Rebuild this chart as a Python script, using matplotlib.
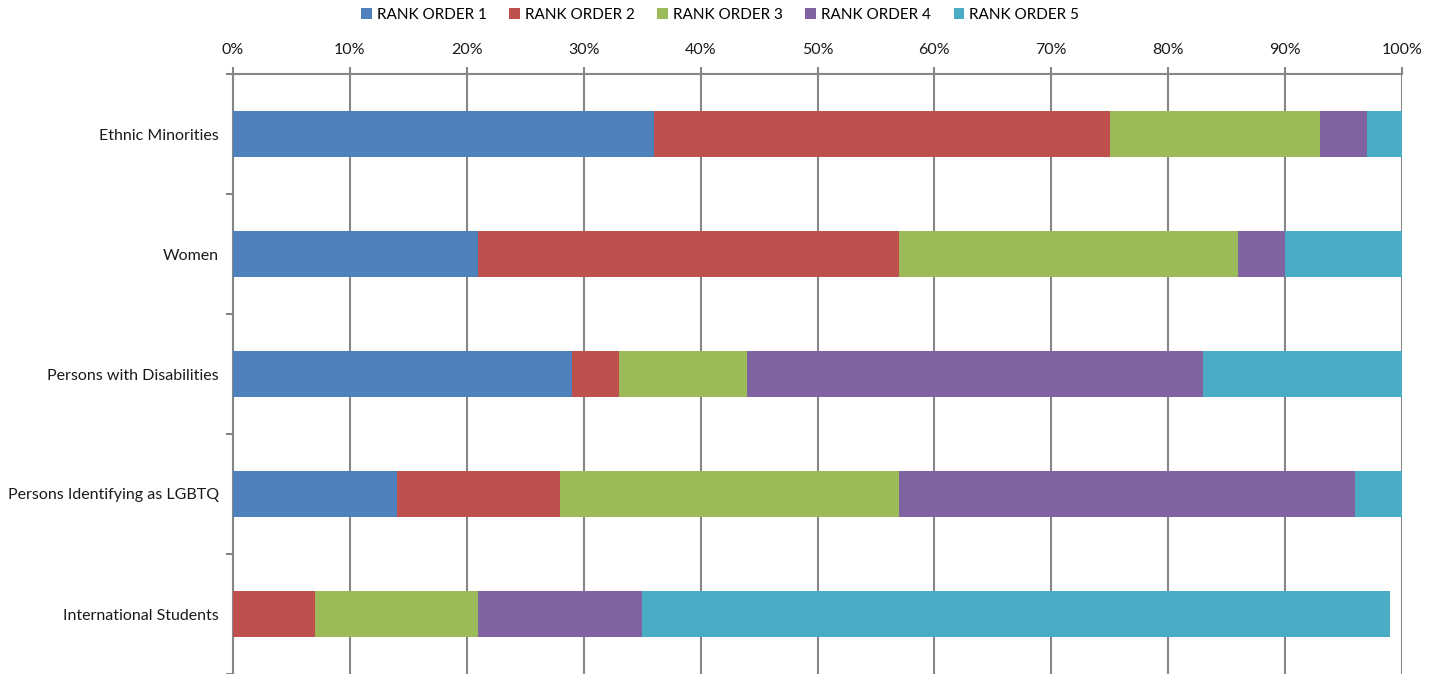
import matplotlib
matplotlib.use("Agg")
import matplotlib.pyplot as plt
from matplotlib.patches import Patch
import numpy as np

plt.rcParams['font.family'] = ['Lato', 'DejaVu Sans']

categories = ["Ethnic Minorities", "Women", "Persons with Disabilities",
              "Persons Identifying as LGBTQ", "International Students"]
series_names = ["RANK ORDER 1", "RANK ORDER 2", "RANK ORDER 3", "RANK ORDER 4", "RANK ORDER 5"]
rank1 = [36, 21, 29, 14, 0]
rank2 = [39, 36, 4, 14, 7]
rank3 = [18, 29, 11, 29, 14]
rank4 = [4, 4, 39, 39, 14]
rank5 = [3, 10, 17, 4, 64]
colors = ["#4F81BD", "#C0504D", "#9BBB59", "#8064A2", "#4BACC6"]

fig = plt.figure(figsize=(14.4, 6.74), dpi=100)
ax = fig.add_axes([233/1440, 0.0, (1402-233)/1440, 1 - 74/674])

y = np.arange(len(categories))
left = np.zeros(len(categories))
for vals, name, c in zip([rank1, rank2, rank3, rank4, rank5], series_names, colors):
    vals = np.array(vals, dtype=float)
    ax.barh(y, vals / 100.0, left=left / 100.0, height=0.39, color=c, label=name, zorder=3)
    left += vals

ax.set_xlim(0, 1)
ax.set_ylim(len(categories) - 0.5, -0.5)
ax.xaxis.tick_top()
ax.set_xticks(np.arange(0, 1.01, 0.1))
ax.set_xticklabels([f"{int(round(v*100))}%" for v in np.arange(0, 1.01, 0.1)])
ax.tick_params(axis="x", length=5, width=1.5, labelsize=11.5, pad=7, colors="#868686", labelcolor="#1a1a1a")
ax.grid(axis="x", color="#868686", linewidth=1.5, zorder=0)

ax.set_yticks(y)
ax.set_yticklabels(categories)
ax.tick_params(axis="y", which="major", length=0, labelsize=11.5, pad=10, labelcolor="#1a1a1a")
ax.set_yticks(np.arange(-0.5, len(categories), 1.0), minor=True)
ax.tick_params(axis="y", which="minor", length=5, width=1.5, color="#868686")

for s in ["right", "bottom"]:
    ax.spines[s].set_visible(False)
for s in ["left", "top"]:
    ax.spines[s].set_color("#868686")
    ax.spines[s].set_linewidth(1.5)

handles = [Patch(facecolor=c, label=n) for c, n in zip(colors, series_names)]
fig.legend(handles=handles, loc="center", bbox_to_anchor=(0.5, 1 - 15/674), ncol=5,
           frameon=False, fontsize=11, handlelength=0.7, handleheight=0.7,
           handletextpad=0.3, columnspacing=1.5)

fig.savefig("out.png", dpi=100)
